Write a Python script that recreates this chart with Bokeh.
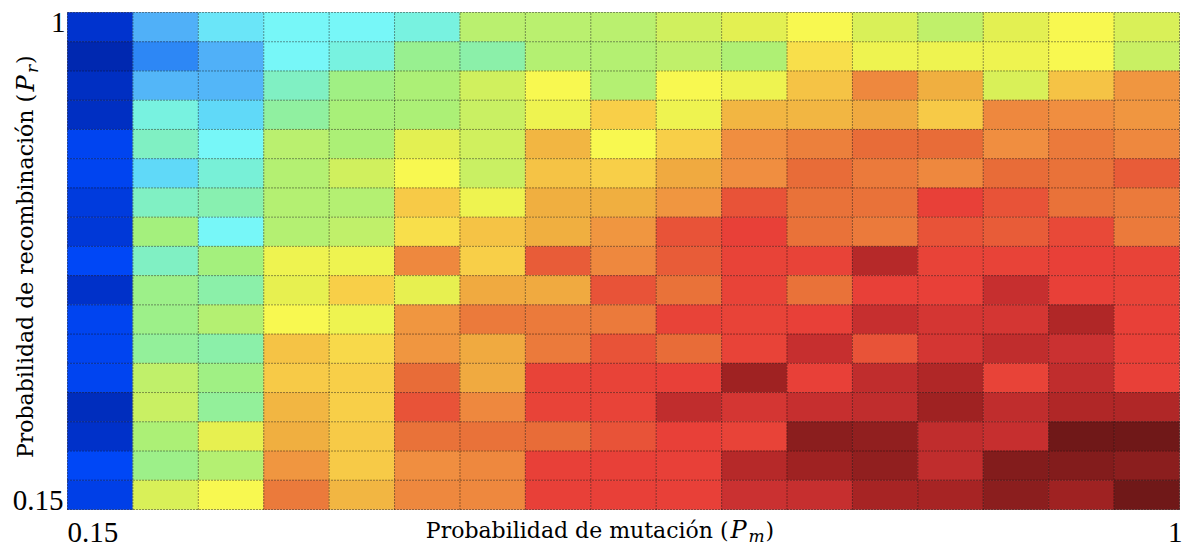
import numpy as np
from bokeh.plotting import figure
from bokeh.models import ColumnDataSource, LinearColorMapper, Label, Range1d
from bokeh.transform import transform
from bokeh.embed import file_html
from bokeh.resources import INLINE

# Mutation probability levels (cell edges along x)
pm = [0.15, 0.20, 0.25, 0.30, 0.35, 0.40, 0.45, 0.50, 0.55,
      0.60, 0.65, 0.70, 0.75, 0.80, 0.85, 0.90, 0.95, 1.00]
# Recombination probability levels (cell edges along y)
pr = [0.15, 0.20, 0.25, 0.30, 0.35, 0.40, 0.45, 0.50, 0.55,
      0.60, 0.65, 0.70, 0.75, 0.80, 0.85, 0.90, 0.95, 1.00]

# Normalised score per cell, rows from Pr = 1 (top) down to Pr = 0.15,
# columns from Pm = 0.15 to Pm = 1
score = [
    [0.05, 0.20, 0.27, 0.30, 0.30, 0.33, 0.50, 0.50, 0.50, 0.53, 0.56, 0.60, 0.54, 0.51, 0.56, 0.60, 0.54],
    [0.00, 0.15, 0.20, 0.30, 0.33, 0.42, 0.39, 0.49, 0.49, 0.51, 0.48, 0.63, 0.58, 0.58, 0.58, 0.60, 0.52],
    [0.03, 0.21, 0.21, 0.36, 0.44, 0.47, 0.53, 0.60, 0.49, 0.60, 0.58, 0.67, 0.76, 0.70, 0.54, 0.67, 0.74],
    [0.03, 0.33, 0.25, 0.40, 0.46, 0.47, 0.52, 0.58, 0.65, 0.58, 0.69, 0.69, 0.71, 0.66, 0.76, 0.75, 0.74],
    [0.09, 0.36, 0.30, 0.50, 0.47, 0.56, 0.53, 0.69, 0.60, 0.65, 0.75, 0.77, 0.80, 0.80, 0.75, 0.78, 0.76],
    [0.09, 0.25, 0.34, 0.49, 0.53, 0.60, 0.52, 0.67, 0.65, 0.71, 0.75, 0.80, 0.78, 0.76, 0.80, 0.79, 0.82],
    [0.07, 0.36, 0.38, 0.49, 0.49, 0.66, 0.58, 0.70, 0.70, 0.74, 0.83, 0.79, 0.79, 0.855, 0.83, 0.79, 0.78],
    [0.06, 0.45, 0.30, 0.49, 0.51, 0.63, 0.67, 0.70, 0.74, 0.83, 0.855, 0.79, 0.78, 0.83, 0.82, 0.84, 0.78],
    [0.10, 0.36, 0.45, 0.58, 0.58, 0.76, 0.65, 0.82, 0.76, 0.82, 0.85, 0.85, 0.90, 0.85, 0.85, 0.855, 0.85],
    [0.04, 0.43, 0.39, 0.57, 0.65, 0.57, 0.71, 0.71, 0.83, 0.79, 0.85, 0.79, 0.855, 0.855, 0.88, 0.855, 0.85],
    [0.09, 0.43, 0.49, 0.60, 0.58, 0.74, 0.78, 0.78, 0.78, 0.85, 0.85, 0.855, 0.88, 0.87, 0.87, 0.91, 0.855],
    [0.09, 0.41, 0.39, 0.67, 0.64, 0.74, 0.71, 0.78, 0.83, 0.80, 0.85, 0.88, 0.83, 0.87, 0.89, 0.875, 0.855],
    [0.09, 0.51, 0.44, 0.66, 0.65, 0.80, 0.71, 0.85, 0.85, 0.855, 0.93, 0.855, 0.89, 0.91, 0.85, 0.89, 0.855],
    [0.02, 0.52, 0.41, 0.69, 0.65, 0.83, 0.76, 0.85, 0.85, 0.89, 0.87, 0.88, 0.89, 0.93, 0.89, 0.91, 0.91],
    [0.04, 0.47, 0.57, 0.70, 0.66, 0.79, 0.79, 0.80, 0.83, 0.855, 0.85, 0.96, 0.95, 0.89, 0.88, 1.00, 1.00],
    [0.10, 0.43, 0.49, 0.74, 0.66, 0.75, 0.76, 0.855, 0.855, 0.855, 0.90, 0.93, 0.95, 0.89, 0.97, 0.97, 0.96],
    [0.08, 0.54, 0.60, 0.78, 0.69, 0.76, 0.76, 0.855, 0.855, 0.855, 0.875, 0.88, 0.92, 0.92, 0.96, 0.93, 1.00],
]

# Axis end labels
x_tick_vals = [0.15, 1.0]
x_tick_text = ["0.15", "1"]
y_tick_vals = [0.15, 1.0]
y_tick_text = ["0.15", "1"]

# Jet-like colour ramp (anchor stops, interpolated to 256 entries)
stops = [
    (0.00, "#0028b0"), (0.05, "#0034d0"), (0.10, "#0048f8"), (0.15, "#2e88f5"),
    (0.20, "#50b0f8"), (0.25, "#60d8f8"), (0.30, "#78f8f8"), (0.34, "#78f0d8"),
    (0.38, "#88f0b0"), (0.42, "#98f090"), (0.46, "#a8f078"), (0.50, "#b8f070"),
    (0.54, "#d8f058"), (0.57, "#e8f050"), (0.60, "#f8f850"), (0.65, "#f8d048"),
    (0.70, "#f0b040"), (0.75, "#f09040"), (0.80, "#e86c38"), (0.855, "#e84038"),
    (0.88, "#c83030"), (0.92, "#a82424"), (0.96, "#8c1e1e"), (1.00, "#701818"),
]


def build_palette(stops, n=256):
    pos = np.array([s[0] for s in stops])
    rgb = np.array([[int(c[i:i + 2], 16) for i in (1, 3, 5)] for _, c in stops], dtype=float)
    t = np.linspace(0, 1, n)
    chans = [np.interp(t, pos, rgb[:, k]) for k in range(3)]
    return ["#%02x%02x%02x" % tuple(int(round(ch[i])) for ch in chans) for i in range(n)]


palette = build_palette(stops)
mapper = LinearColorMapper(palette=palette, low=0.0, high=1.0)

# One quad per cell
left, right, top, bottom, val = [], [], [], [], []
n_rows = len(score)
for i, row in enumerate(score):
    for j, v in enumerate(row):
        left.append(pm[j])
        right.append(pm[j + 1])
        top.append(pr[n_rows - i])
        bottom.append(pr[n_rows - i - 1])
        val.append(v)

source = ColumnDataSource(dict(left=left, right=right, top=top, bottom=bottom, val=val))

# Canvas size and the pixel margins kept around the heat map for the labels
W, H = 1182, 550
m_left, m_right, m_top, m_bottom = 67, 3, 12, 41
ux = (pm[-1] - pm[0]) / (W - m_left - m_right)
uy = (pr[-1] - pr[0]) / (H - m_top - m_bottom)

p = figure(
    width=W, height=H,
    x_range=Range1d(pm[0] - m_left * ux, pm[-1] + m_right * ux),
    y_range=Range1d(pr[0] - m_bottom * uy, pr[-1] + m_top * uy),
    x_axis_location=None, y_axis_location=None,
    min_border=0, output_backend="svg", toolbar_location=None,
)
p.outline_line_color = None
p.background_fill_color = "white"
p.border_fill_color = "white"
p.grid.visible = False

p.quad(left="left", right="right", top="top", bottom="bottom", source=source,
       fill_color=transform("val", mapper), line_color=transform("val", mapper),
       line_width=0.6)

# Dotted cell boundaries drawn over the cells
n_x, n_y = len(pm), len(pr)
p.segment(x0=pm, y0=[pr[0]] * n_x, x1=pm, y1=[pr[-1]] * n_x,
          line_color="#111111", line_alpha=0.85, line_dash="1 2", line_width=1)
p.segment(x0=[pm[0]] * n_y, y0=pr, x1=[pm[-1]] * n_y, y1=pr,
          line_color="#111111", line_alpha=0.85, line_dash="1 2", line_width=1)

tick_font = dict(text_font="Liberation Serif", text_font_size="29px", text_color="black",
                 text_baseline="alphabetic")

# x end labels: first left-aligned, last right-aligned under the map
p.add_layout(Label(x=x_tick_vals[0], y=pr[0], text=x_tick_text[0], text_align="left",
                   y_offset=-23, **tick_font))
p.add_layout(Label(x=x_tick_vals[-1], y=pr[0], text=x_tick_text[-1], text_align="right",
                   x_offset=3, y_offset=-23, **tick_font))
# y end labels to the left of the map
p.add_layout(Label(x=pm[0], y=y_tick_vals[0], text=y_tick_text[0], text_align="right",
                   x_offset=-4, y_offset=9, **tick_font))
p.add_layout(Label(x=pm[0], y=y_tick_vals[-1], text=y_tick_text[-1], text_align="right",
                   x_offset=-2, y_offset=-10, **tick_font))

lab_font = dict(text_font="DejaVu Serif", text_color="black", text_baseline="alphabetic")
x_mid = (pm[0] + pm[-1]) / 2
y_mid = (pr[0] + pr[-1]) / 2

# x axis title with italic P and subscript m
p.add_layout(Label(x=x_mid, y=pr[0], text="Probabilidad de mutación (", text_align="right",
                   x_offset=105, y_offset=-20.5, text_font_size="22px", **lab_font))
p.add_layout(Label(x=x_mid, y=pr[0], text="P", text_align="left", text_font_style="italic",
                   x_offset=107, y_offset=-20, text_font_size="24px", **lab_font))
p.add_layout(Label(x=x_mid, y=pr[0], text="m", text_align="left", text_font_style="italic",
                   x_offset=125, y_offset=-26, text_font_size="17px", **lab_font))
p.add_layout(Label(x=x_mid, y=pr[0], text=")", text_align="left",
                   x_offset=142, y_offset=-20.5, text_font_size="22px", **lab_font))

# y axis title, rotated, with italic P and subscript r
rot = np.pi / 2
p.add_layout(Label(x=pm[0], y=y_mid, text="Probabilidad de recombinación (", text_align="right",
                   angle=rot, x_offset=-42, y_offset=167, text_font_size="22px", **lab_font))
p.add_layout(Label(x=pm[0], y=y_mid, text="P", text_align="left", text_font_style="italic",
                   angle=rot, x_offset=-42, y_offset=169.5, text_font_size="24px", **lab_font))
p.add_layout(Label(x=pm[0], y=y_mid, text="r", text_align="left", text_font_style="italic",
                   angle=rot, x_offset=-36, y_offset=188, text_font_size="17px", **lab_font))
p.add_layout(Label(x=pm[0], y=y_mid, text=")", text_align="left",
                   angle=rot, x_offset=-42, y_offset=197, text_font_size="22px", **lab_font))

open("out.html", "w").write(file_html(p, INLINE))
